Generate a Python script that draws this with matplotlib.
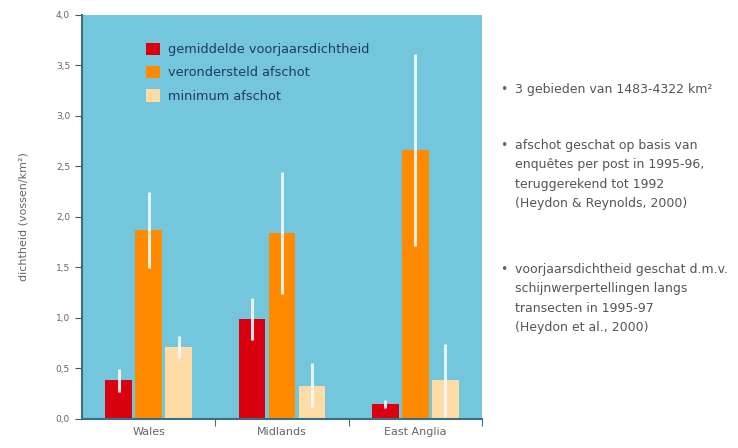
import numpy as np
import matplotlib
matplotlib.use("Agg")
import matplotlib.pyplot as plt

# regions and series (foxes per km2)
regions = ["Wales", "Midlands", "East Anglia"]
series_names = ["gemiddelde voorjaarsdichtheid", "verondersteld afschot", "minimum afschot"]
dichtheid = [0.38, 0.99, 0.15]
dichtheid_err = [0.11, 0.21, 0.04]
afschot = [1.87, 1.84, 2.66]
afschot_err = [0.38, 0.60, 0.95]
min_afschot = [0.71, 0.33, 0.38]
min_afschot_err = [0.11, 0.22, 0.36]
yticks = [0.0, 0.5, 1.0, 1.5, 2.0, 2.5, 3.0, 3.5, 4.0]

notes = [
    "3 gebieden van 1483-4322 km²",
    "afschot geschat op basis van\nenquêtes per post in 1995-96,\nteruggerekend tot 1992\n(Heydon & Reynolds, 2000)",
    "voorjaarsdichtheid geschat d.m.v.\nschijnwerpertellingen langs\ntransecten in 1995-97\n(Heydon et al., 2000)",
]

colors = ["#D9000F", "#FF8A00", "#FFDCA6"]
bg = "#74C6DC"
err_col = "#F2FAFF"

fig = plt.figure(figsize=(7.38, 4.48), dpi=100)
ax = fig.add_axes([0.111, 0.065, 0.542, 0.902])
ax.set_facecolor(bg)

x = np.arange(len(regions))
w = 0.2
offs = [-0.225, 0.0, 0.225]
for vals, errs, c, off, name in zip([dichtheid, afschot, min_afschot],
                                    [dichtheid_err, afschot_err, min_afschot_err],
                                    colors, offs, series_names):
    ax.bar(x + off, vals, width=w, color=c, label=name, zorder=2)
    ax.errorbar(x + off, vals, yerr=errs, fmt="none", ecolor=err_col,
                elinewidth=2.2, capsize=0, alpha=0.9, zorder=3)

ax.set_xlim(-0.5, 2.5)
ax.set_ylim(0, 4.0)
ax.set_yticks(yticks)
ax.set_yticklabels([f"{t:.1f}".replace(".", ",") for t in yticks], fontsize=6.5, color="#666666")
ax.set_xticks([0.5, 1.5, 2.5])
ax.set_xticklabels([])
ax.set_xticks(x, minor=True)
ax.set_xticklabels(regions, minor=True, fontsize=8, color="#666666")
ax.tick_params(axis="x", which="minor", length=0, pad=6)
ax.tick_params(axis="x", which="major", length=5, color="#3D6F84", direction="out")
ax.tick_params(axis="y", length=5, color="#555555", direction="out")

for s in ["top", "right"]:
    ax.spines[s].set_visible(False)
for s in ["left", "bottom"]:
    ax.spines[s].set_color("#3D6F84")
    ax.spines[s].set_linewidth(1.5)

ax.set_ylabel("dichtheid (vossen/km²)", fontsize=8, color="#666666", labelpad=20)

leg = ax.legend(loc="upper left", bbox_to_anchor=(0.13, 0.96), frameon=False,
                fontsize=9.3, handlelength=1.1, handleheight=1.1,
                handletextpad=0.6, labelspacing=0.75)
for t in leg.get_texts():
    t.set_color("#1E3A66")

ys = [0.815, 0.69, 0.413]
for note, y in zip(notes, ys):
    fig.text(0.678, y, "•", fontsize=9, color="#666666", va="top")
    fig.text(0.698, y, note, fontsize=9.0, color="#555555", va="top", linespacing=1.65)

fig.savefig("out.png", dpi=100)
